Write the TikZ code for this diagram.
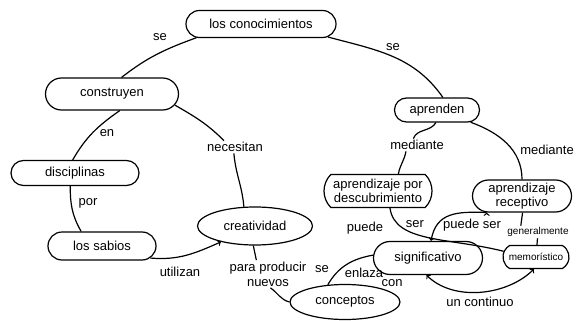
\documentclass[tikz,border=0pt]{standalone}
\usepackage{fontspec}
\setmainfont{Liberation Sans}
\usetikzlibrary{shapes.misc,shapes.geometric}
\tikzset{
  concept/.style={draw, rounded rectangle, inner sep=1pt, align=center,
    font=\fontsize{13}{14}\selectfont},
  link/.style={inner sep=1pt, align=center, font=\fontsize{13}{15}\selectfont},
  smalllink/.style={inner sep=1pt, font=\fontsize{10}{11}\selectfont},
}
\begin{document}
\begin{tikzpicture}[x=1pt, y=1pt, line width=1.2pt]
  \useasboundingbox (0,0) rectangle (586,-321);
  % concepts
  \node (conoc) [concept, minimum width=152pt, minimum height=27pt] at (261,-24) {los conocimientos};
  \node (constr) [concept, minimum width=135pt, minimum height=32pt] at (112,-94) {construyen};
  \node (apren) [concept, minimum width=87pt, minimum height=24pt] at (437,-110) {aprenden};
  \node (discip) [concept, minimum width=130pt, minimum height=25pt] at (75,-173) {disciplinas};
  \node (sabios) [concept, minimum width=110pt, minimum height=28pt] at (102,-246) {los sabios};
  \node (creat) [concept, ellipse, minimum width=115pt, minimum height=38pt] at (255,-226) {creatividad};
  \node (descub) [concept, rounded rectangle arc length=90, minimum width=110pt, minimum height=33pt] at (378,-191) {aprendizaje por\\descubrimiento};
  \node (recep) [concept, minimum width=101pt, minimum height=32pt] at (522,-196) {aprendizaje\\receptivo};
  \node (signif) [concept, minimum width=111pt, minimum height=33pt] at (428,-258) {significativo};
  \node (memor) [concept, rounded rectangle arc length=120, font=\fontsize{10}{11}\selectfont, minimum width=68pt, minimum height=23pt] at (536,-257) {memorístico};
  \node (concep) [concept, ellipse, minimum width=110pt, minimum height=35pt] at (345,-302) {conceptos};
  % link words
  \node (lse1) [link] at (160,-37) {se};
  \node (lse2) [link] at (393,-47) {se};
  \node (len) [link] at (107,-133) {en};
  \node (lnec) [link] at (235,-147) {necesitan};
  \node (lpor) [link] at (88,-203) {por};
  \node (luti) [link] at (180,-272) {utilizan};
  \node (lpara) [link] at (268,-274) {para producir\\nuevos};
  \node (lmed1) [link] at (417,-145) {mediante};
  \node (lmed2) [link] at (547,-150) {mediante};
  \node (lpuede) [link] at (365,-228) {puede};
  \node (lser) [link] at (415,-224) {ser};
  \node (lpuede2) [link] at (472,-225) {puede ser};
  \node (lgen) [smalllink] at (538,-232) {generalmente};
  \node (lse3) [link] at (322,-269) {se};
  \node (lenl) [link] at (364,-273) {enlaza};
  \node (lcon) [link] at (392,-283) {con};
  \node (lcont) [link] at (480,-302) {un continuo};
  % connectors
  \draw (conoc.192) edge [out=200, in=38] (constr.60)
        (conoc.-11) edge [out=-15, in=125] (apren.65)
        (constr.-65) edge [out=-145, in=60] (discip.100)
        (constr.-10) edge [out=-30, in=135] (lnec.150)
        (lnec.-100) edge [out=-85, in=95] (creat.120)
        (discip.-110) edge [out=-90, in=120] (sabios.145)
        (creat.-95) edge (lpara.130)
        (lpara.-80) edge [out=-35, in=165] (concep.180)
        (apren.-95) edge [out=-120, in=70] (lmed1.120)
        (lmed1.-150) edge [out=-100, in=80] (descub.40)
        (apren.-20) edge [out=-20, in=90] (recep.90)
        (recep.-88) edge (lgen.160)
        (lgen) edge (memor)
        (concep.135) edge [out=60, in=190] (signif.177);
  \draw (descub.-55) .. controls +(5,-35) and +(-55,14) .. (memor.170);
  \draw [->] (sabios.-14) edge [out=-5, in=204] (creat.205)
             (recep.205) edge [out=178, in=80, looseness=1.2] (signif.80);
  \draw [<->] (signif.-95) to [out=-45, in=-135, looseness=0.9] (memor.-100);
\end{tikzpicture}
\end{document}
